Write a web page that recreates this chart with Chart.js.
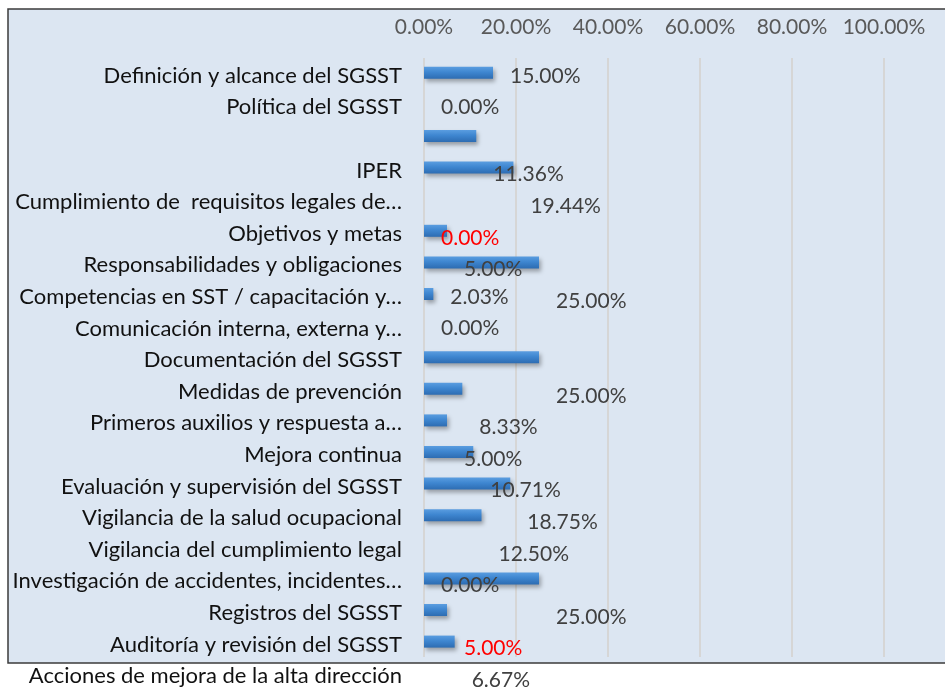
<!DOCTYPE html>
<html lang="es">
<head>
<meta charset="utf-8">
<title>Cumplimiento SGSST</title>
<script src="https://cdn.jsdelivr.net/npm/chart.js@4.4.1/dist/chart.umd.min.js"></script>
<style>
  html, body { margin: 0; padding: 0; background: #fff; overflow: hidden; }
  #wrap { width: 945px; height: 700px; }
</style>
</head>
<body>
<div id="wrap"><canvas id="chart" width="945" height="700"></canvas></div>
<script>
/* ---- DATA ---- */
const categories = [
  'Definición y alcance del SGSST',
  'Política del SGSST',
  '',
  'IPER',
  'Cumplimiento de  requisitos legales de…',
  'Objetivos y metas',
  'Responsabilidades y obligaciones',
  'Competencias en SST / capacitación y…',
  'Comunicación interna, externa y…',
  'Documentación del SGSST',
  'Medidas de prevención',
  'Primeros auxilios y respuesta a…',
  'Mejora continua',
  'Evaluación y supervisión del SGSST',
  'Vigilancia de la salud ocupacional',
  'Vigilancia del cumplimiento legal',
  'Investigación de accidentes, incidentes…',
  'Registros del SGSST',
  'Auditoría y revisión del SGSST',
  'Acciones de mejora de la alta dirección'
];

// porcentaje de cada barra (en %)
const values = [15, 0, 11.36, 19.44, 0, 5, 25, 2.03, 0, 25, 8.33, 5, 10.71, 18.75, 12.5, 0, 25, 5, 6.67, null];

// la etiqueta de algunas barras quedó desplazada una fila hacia abajo en el original
const labelRowShift = [0, 0, 1, 1, 1, 1, 1, 0, 0, 1, 1, 1, 1, 1, 1, 1, 1, 1, 1];

// etiquetas resaltadas en rojo
const redLabels = [4, 17];

const xTicks = [0, 20, 40, 60, 80, 100];

/* ---- STYLE ---- */
const FONT = 'Lato, "Open Sans", sans-serif';
const BOX = { left: 8, top: 9, bottom: 663 };

/* ---- PLUGINS ---- */
const boxPlugin = {
  id: 'box',
  beforeDraw(chart) {
    const { ctx, width } = chart;
    ctx.save();
    ctx.fillStyle = '#dce6f2';
    ctx.fillRect(BOX.left, BOX.top, width - BOX.left, BOX.bottom - BOX.top);
    ctx.strokeStyle = '#3b3b3b';
    ctx.lineWidth = 1.5;
    ctx.beginPath();
    ctx.moveTo(width + 2, BOX.top);
    ctx.lineTo(BOX.left, BOX.top);
    ctx.lineTo(BOX.left, BOX.bottom);
    ctx.lineTo(width + 2, BOX.bottom);
    ctx.stroke();
    ctx.restore();
  },
  beforeDatasetsDraw(chart) {
    const { ctx, chartArea, scales: { x } } = chart;
    ctx.save();
    ctx.strokeStyle = '#d6d6d6';
    ctx.lineWidth = 2;
    x.ticks.forEach(t => {
      const px = Math.round(x.getPixelForValue(t.value));
      ctx.beginPath();
      ctx.moveTo(px, chartArea.top + 1);
      ctx.lineTo(px, BOX.bottom - 6);
      ctx.stroke();
    });
    ctx.restore();
    // sombra de las barras
    ctx.save();
    ctx.shadowColor = 'rgba(0,0,0,0.32)';
    ctx.shadowBlur = 4;
    ctx.shadowOffsetX = 2;
    ctx.shadowOffsetY = 3;
  },
  afterDatasetsDraw(chart) {
    const { ctx, scales: { x, y } } = chart;
    ctx.restore();
    ctx.save();
    ctx.font = '21px ' + FONT;
    ctx.textAlign = 'left';
    ctx.textBaseline = 'middle';
    values.forEach((v, i) => {
      if (v === null) return;
      ctx.fillStyle = redLabels.includes(i) ? '#ff0000' : '#404040';
      const px = x.getPixelForValue(v) + 17;
      const py = y.getPixelForValue(i + labelRowShift[i]) + 3 + 4 * labelRowShift[i];
      ctx.fillText(v.toFixed(2) + '%', px, py);
    });
    ctx.restore();
  }
};

/* ---- BAR GRADIENT ---- */
function barFill(c) {
  const chart = c.chart;
  const y = chart.scales.y;
  const cy = y && c.dataIndex !== undefined ? y.getPixelForValue(c.dataIndex) : NaN;
  if (!Number.isFinite(cy)) return '#3b82cb';
  const g = chart.ctx.createLinearGradient(0, cy - 6, 0, cy + 6);
  g.addColorStop(0, '#5a9de0');
  g.addColorStop(0.45, '#3e86d0');
  g.addColorStop(1, '#2d6cb2');
  return g;
}

/* ---- CHART ---- */
new Chart(document.getElementById('chart'), {
  type: 'bar',
  data: {
    labels: categories,
    datasets: [{
      data: values,
      backgroundColor: barFill,
      borderWidth: 0,
      categoryPercentage: 1,
      barPercentage: 0.38
    }]
  },
  options: {
    indexAxis: 'y',
    responsive: false,
    animation: false,
    layout: { padding: { top: 9, right: 61, bottom: 11, left: 0 } },
    plugins: { legend: { display: false }, tooltip: { enabled: false } },
    scales: {
      x: {
        position: 'top',
        min: 0,
        max: 100,
        afterFit: s => { s.height = 48; s.paddingLeft = 0; s.paddingRight = 0; },
        afterBuildTicks: s => { s.ticks = xTicks.map(v => ({ value: v })); },
        grid: { display: false, drawTicks: false },
        border: { display: false },
        ticks: {
          padding: 17,
          color: '#595959',
          font: { family: FONT, size: 21 },
          maxRotation: 0,
          callback: v => v.toFixed(2) + '%'
        }
      },
      y: {
        afterFit: s => { s.width = 424; s.paddingTop = 0; s.paddingBottom = 0; },
        grid: { display: false, drawTicks: false },
        border: { display: false },
        ticks: {
          autoSkip: false,
          padding: 22,
          labelOffset: 3,
          color: '#111',
          font: { family: FONT, size: 22 }
        }
      }
    }
  },
  plugins: [boxPlugin]
});
</script>
</body>
</html>
